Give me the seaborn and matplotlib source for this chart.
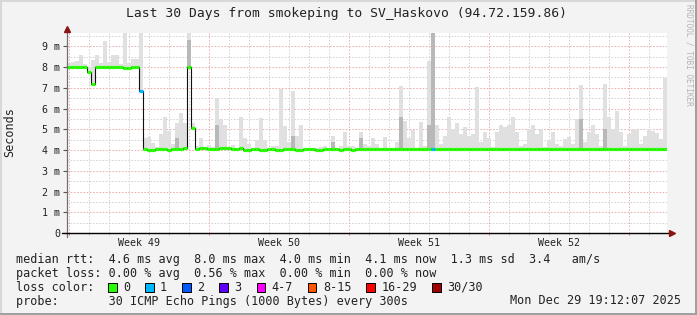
import numpy as np
import matplotlib
matplotlib.use("Agg")
import matplotlib.pyplot as plt
import seaborn as sns
from matplotlib.patches import Rectangle

# ---------------- data (values in milliseconds, one bin = 0.2 day) ----------------
median_ms = [
    8.0, 8.0, 7.98, 7.98, 8.0, 7.75, 7.2, 8.0, 8.0, 8.0,
    8.0, 8.02, 8.02, 8.0, 7.97, 7.97, 8.0, 8.0, 6.83, 4.05,
    4.02, 4.02, 4.05, 4.03, 4.05, 4.02, 4.05, 4.07, 4.07, 4.08,
    8.0, 5.06, 4.05, 4.08, 4.08, 4.05, 4.05, 4.05, 4.08, 4.08,
    4.08, 4.05, 4.05, 4.08, 4.02, 4.02, 4.03, 4.03, 4.02, 4.02,
    4.03, 4.05, 4.02, 4.02, 4.03, 4.05, 4.05, 4.02, 4.02, 4.05,
    4.05, 4.03, 4.02, 4.02, 4.05, 4.05, 4.03, 4.03, 4.02, 4.05,
    4.03, 4.02, 4.05, 4.05, 4.05, 4.05, 4.03, 4.05, 4.05, 4.05,
    4.05, 4.03, 4.05, 4.05, 4.05, 4.03, 4.05, 4.05, 4.05, 4.05,
    4.03, 4.05, 4.05, 4.05, 4.03, 4.05, 4.05, 4.03, 4.05, 4.05,
    4.03, 4.05, 4.03, 4.05, 4.03, 4.05, 4.05, 4.03, 4.05, 4.05,
    4.05, 4.05, 4.03, 4.05, 4.05, 4.05, 4.03, 4.03, 4.05, 4.05,
    4.05, 4.03, 4.03, 4.05, 4.05, 4.03, 4.05, 4.05, 4.05, 4.03,
    4.03, 4.05, 4.05, 4.05, 4.05, 4.03, 4.03, 4.05, 4.05, 4.03,
    4.05, 4.05, 4.05, 4.03, 4.05, 4.05, 4.03, 4.05, 4.05, 4.05,
]
smoke_max_ms = [
    8.2, 8.25, 8.3, 8.6, 8.15, 8.0, 8.34, 8.6, 8.2, 9.27,
    8.25, 8.6, 8.6, 8.15, 9.64, 8.2, 8.4, 8.4, 9.64, 4.58,
    4.65, 4.35, 4.15, 4.77, 5.58, 4.9, 4.3, 5.3, 5.78, 5.3,
    9.64, 5.3, 4.2, 4.58, 4.15, 4.25, 4.15, 6.5, 5.5, 5.22,
    4.1, 4.25, 4.1, 5.6, 4.6, 4.3, 4.1, 4.5, 5.55, 4.5,
    4.1, 4.2, 4.2, 6.94, 5.17, 4.4, 6.86, 4.7, 5.22, 4.1,
    4.1, 4.05, 4.1, 4.15, 4.2, 4.1, 4.68, 4.1, 4.2, 4.85,
    4.2, 4.2, 4.1, 4.85, 4.3, 4.2, 4.58, 4.3, 4.1, 4.65,
    4.1, 4.1, 4.4, 7.07, 5.42, 4.58, 4.97, 4.1, 5.37, 4.2,
    8.28, 9.64, 5.2, 4.3, 4.7, 5.6, 5.0, 5.3, 4.75, 5.1,
    4.7, 4.75, 7.02, 4.4, 4.85, 4.6, 4.15, 4.85, 5.2, 5.1,
    5.22, 5.6, 4.85, 4.2, 4.3, 5.0, 5.2, 4.75, 5.0, 4.15,
    4.5, 4.88, 4.3, 4.2, 4.55, 4.65, 4.3, 5.5, 7.15, 4.4,
    4.85, 5.2, 4.75, 4.2, 7.18, 5.6, 5.0, 5.9, 4.85, 4.2,
    4.75, 5.0, 4.95, 4.3, 4.7, 5.0, 4.9, 4.8, 4.55, 7.47,
]
dark_bins = [27, 30, 37, 56, 66, 73, 83, 90, 91, 128, 134]
dark_top_ms = [4.6, 9.3, 5.2, 4.7, 4.4, 4.6, 5.6, 5.2, 9.64, 5.5, 5.0]
loss_bins = [18, 91]
loss_vals = [1, 1]

week_labels = ["Week 49", "Week 50", "Week 51", "Week 52"]
y_tick_vals = [0, 1, 2, 3, 4, 5, 6, 7, 8, 9]
y_tick_labels = ["0", "1 m", "2 m", "3 m", "4 m", "5 m", "6 m", "7 m", "8 m", "9 m"]

title = "Last 30 Days from smokeping to SV_Haskovo (94.72.159.86)"
row_rtt = "median rtt:  4.6 ms avg  8.0 ms max  4.0 ms min  4.1 ms now  1.3 ms sd  3.4   am/s"
row_loss = "packet loss: 0.00 % avg  0.56 % max  0.00 % min  0.00 % now"
row_probe = "probe:       30 ICMP Echo Pings (1000 Bytes) every 300s"
stamp = "Mon Dec 29 19:12:07 2025"
loss_legend_labels = ["0", "1", "2", "3", "4-7", "8-15", "16-29", "30/30"]
loss_legend_colors = ["#26ff00", "#00b8ff", "#0059ff", "#5e00ff", "#ff00ff",
                      "#ff5500", "#ff0000", "#a10000"]

# ---------------- figure ----------------
sns.set_style("white")
plt.rcParams['font.family'] = ['DejaVu Sans Mono']

W, H = 697, 315
fig = plt.figure(figsize=(W / 100, H / 100), dpi=100, facecolor="#f3f3f3")
ax = fig.add_axes([67 / W, 82 / H, 600 / W, 200 / H])
ax.set_facecolor("white")

n = len(median_ms)
bw = 30.0 / n
xs = np.arange(n) * bw
edges = np.arange(n + 1) * bw
med = np.array(median_ms)
smk = np.array(smoke_max_ms)
YMAX = 200 / 20.74
ax.set_xlim(0, 30)
ax.set_ylim(0, YMAX)

# grid
minor_c, major_c = "#d4d4d4", "#eab0b0"
dash = (0, (1.6, 1.6))
for v in np.arange(0.5, YMAX, 1.0):
    ax.axhline(v, color=minor_c, lw=0.72, ls=dash, zorder=0.5)
for v in range(1, 10):
    ax.axhline(v, color=major_c, lw=0.72, ls=dash, zorder=0.6)
day0 = 0.115
for k in range(30):
    d = day0 + k
    is_week = (k % 7 == 0)
    col = major_c if is_week else minor_c
    ax.axvline(d, color=col, lw=0.72, ls=dash, zorder=0.6 if is_week else 0.5)
    ax.vlines(d, -0.12, 0, colors=("#e07070" if is_week else "#c0c0c0"),
              lw=0.72, clip_on=False, zorder=3)

# smoke
ax.fill_between(edges, np.append(med, med[-1]), np.append(smk, smk[-1]),
                step="post", color="#e0e0e0", lw=0, zorder=1)
for b, t in zip(dark_bins, dark_top_ms):
    ax.fill_between([xs[b], xs[b] + bw], [med[b], med[b]], [t, t],
                    color="#b8b8b8", lw=0, zorder=1.1)

# median: thin black steps + loss coloured segments
sns.lineplot(x=edges, y=np.append(med, med[-1]), drawstyle="steps-post",
             color="#111111", lw=0.8, estimator=None, sort=False, ax=ax, zorder=2)
loss = np.zeros(n, dtype=int)
for b, v in zip(loss_bins, loss_vals):
    loss[b] = v
seg_colors = [loss_legend_colors[l] for l in loss]
ax.hlines(med, xs, xs + bw, colors=seg_colors, lw=2.3, zorder=2.5)

# axes lines & arrows
for s in ax.spines.values():
    s.set_visible(False)
ax.plot([0, 0], [-0.17, YMAX + 0.15], color="#707070", lw=0.9, clip_on=False, zorder=4)
ax.plot([-0.25, 30.2], [0, 0], color="#000000", lw=1.0, clip_on=False, zorder=4)
ax.plot([0], [YMAX + 0.17], marker="^", color="#8b1515", ms=5, clip_on=False, zorder=5)
ax.plot([30.25], [0], marker=">", color="#8b1515", ms=5, clip_on=False, zorder=5)

ax.set_yticks(y_tick_vals)
ax.set_yticklabels(y_tick_labels)
ax.set_xticks([3.6, 10.6, 17.6, 24.6])
ax.set_xticklabels(week_labels)
ax.tick_params(axis="y", length=3, width=0.8, color="#555555", pad=2,
               labelsize=7.2, labelcolor="#222222", left=True)
ax.tick_params(axis="x", length=0, pad=3.5, labelsize=7.2, labelcolor="#222222")
ax.set_xlabel("")
ax.set_ylabel("")


def fx(x):
    return x / W


def fy(y):
    return 1 - y / H


fig.text(fx(347), fy(13), title, ha="center", va="center", fontsize=9.4, color="#222222")
fig.text(fx(10), fy(132), "Seconds", rotation=90, ha="center", va="center",
         fontsize=8.5, color="#222222")
fig.text(fx(689), fy(4), "RRDTOOL / TOBI OETIKER", rotation=270, ha="center", va="top",
         fontsize=5.6, color="#b5b5b5")

fs = 8.5
cw = 7.13
rows_y = [259.3, 273.3, 287.3, 301.0]
fig.text(fx(15.6), fy(rows_y[0]), row_rtt, ha="left", va="center", fontsize=fs, color="#222222")
fig.text(fx(15.6), fy(rows_y[1]), row_loss, ha="left", va="center", fontsize=fs, color="#222222")
fig.text(fx(15.6), fy(rows_y[2]), "loss color:", ha="left", va="center", fontsize=fs, color="#222222")
fig.text(fx(15.6), fy(rows_y[3]), row_probe, ha="left", va="center", fontsize=fs, color="#222222")
fig.text(fx(681), fy(rows_y[3]), stamp, ha="right", va="center", fontsize=fs, color="#222222")

bx = 108.0
for lab, col in zip(loss_legend_labels, loss_legend_colors):
    fig.add_artist(Rectangle((fx(bx), fy(292.3)), 8.5 / W, 9 / H, transform=fig.transFigure,
                             facecolor=col, edgecolor="black", lw=0.7))
    fig.text(fx(bx + 15), fy(rows_y[2]), lab, ha="left", va="center", fontsize=fs, color="#222222")
    bx = bx + 15 + cw * len(lab) + 15

# 3D border of the image
fig.add_artist(Rectangle((0, 0), 1, 2 / H, transform=fig.transFigure, facecolor="#a0a0a0", lw=0))
fig.add_artist(Rectangle((1 - 2 / W, 0), 2 / W, 1, transform=fig.transFigure, facecolor="#a0a0a0", lw=0))
fig.add_artist(Rectangle((0, 1 - 2 / H), 1 - 2 / W, 2 / H, transform=fig.transFigure, facecolor="#d8d8d8", lw=0))
fig.add_artist(Rectangle((0, 2 / H), 2 / W, 1 - 4 / H, transform=fig.transFigure, facecolor="#d8d8d8", lw=0))

fig.savefig("out.png", dpi=100, facecolor=fig.get_facecolor())
